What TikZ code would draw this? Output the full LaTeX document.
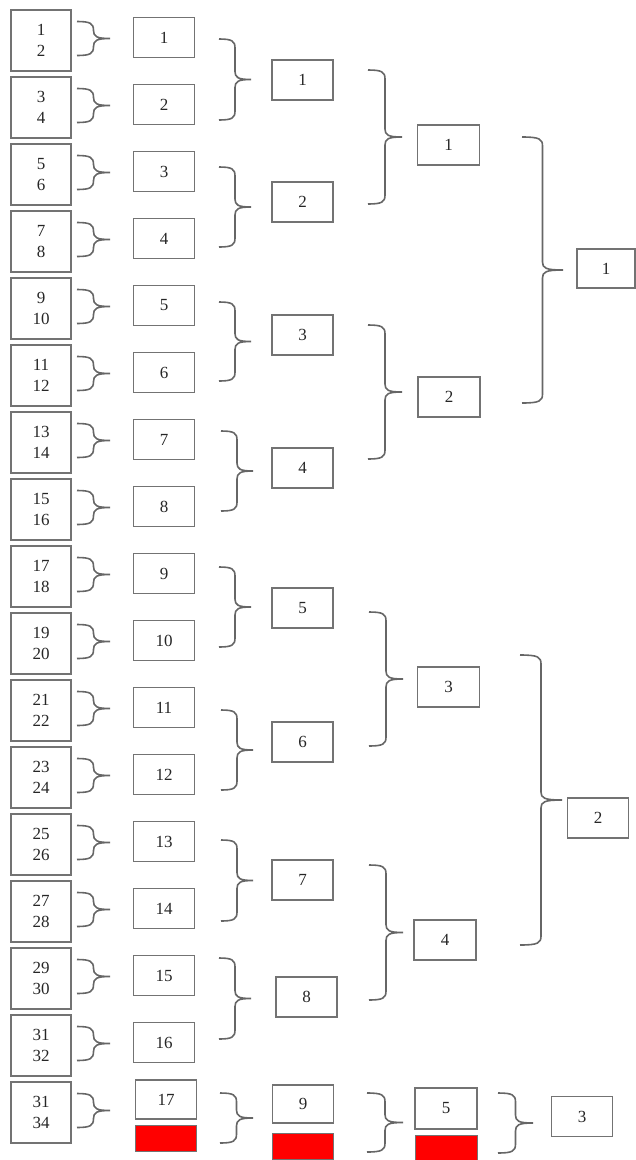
\documentclass[tikz,border=0pt]{standalone}
\usepackage{fontspec}
\setmainfont{Liberation Serif}
\usetikzlibrary{calc}

\begin{document}
\begin{tikzpicture}[
    x=1pt, y=1pt,
    font=\fontsize{17}{21}\selectfont,
    every node/.style={inner sep=0pt, text=black!85},
    pairbox/.style={draw=black!55, line width=1.6pt, minimum width=60pt,
                    minimum height=61pt, align=center},
    numbox/.style={draw=black!55, line width=1.6pt, minimum width=61pt,
                   minimum height=40pt},
    padbox/.style={draw=black!55, line width=1pt, fill=red, minimum width=61pt,
                   minimum height=26pt},
    bline/.style={draw=black!60, line width=1.6pt},
    % brace: x of ends / extra at top / extra at bottom / width
    brc/.style n args={4}{to path={
        let \p1=(\tikztostart), \p2=(\tikztotarget),
            \n1={#1}, \n2={\y1+(#2)}, \n3={\y2-(#3)},
            \n4={(\n2+\n3)/2}, \n5={#1+#4/2}, \n6={#1+#4} in
        (\n1,\n2) .. controls (\n5-3,\n2) and (\n5,\n2-2) .. (\n5,\n2-9)
        -- (\n5,\n4+8) .. controls (\n5,\n4+2) and (\n5+3,\n4) .. (\n6,\n4)
        .. controls (\n5+3,\n4) and (\n5,\n4-2) .. (\n5,\n4-8)
        -- (\n5,\n3+9) .. controls (\n5,\n3+2) and (\n5-3,\n3) .. (\n1,\n3)
    }},
]
\useasboundingbox (0,0) rectangle (636,-1160);

% --------- Pairs and first numbering ----------
\foreach \i in {1,...,16} {
  \pgfmathtruncatemacro\a{2*\i-1}
  \pgfmathtruncatemacro\b{2*\i}
  \node[pairbox] (l\i) at (41,{-40.5-67*(\i-1)}) {\a\\\b};
  \node[numbox]  (m\i) at (164,{-37.5-67*(\i-1)}) {\i};
  \draw[bline, brc={77}{19}{15}{33}] (l\i) to (l\i);
}
\node[pairbox] (l17) at (41,-1112.5) {31\\34};
\node[numbox, minimum height=39pt] (m17) at (166,-1099.5) {17};
\node[padbox] (p17) at (166,-1138.5) {};
\draw[bline, brc={77}{19}{15}{33}] (l17) to (l17);

% --------- Second level ----------
\node[numbox] (s1) at (302.5,-80)  {1};
\node[numbox] (s2) at (302.5,-202) {2};
\node[numbox] (s3) at (302.5,-335) {3};
\node[numbox] (s4) at (302.5,-468) {4};
\node[numbox] (s5) at (302.5,-608) {5};
\node[numbox] (s6) at (302.5,-742) {6};
\node[numbox] (s7) at (302.5,-880) {7};
\node[numbox] (s8) at (306.5,-997) {8};
\node[numbox, minimum height=38pt] (s9) at (303,-1104) {9};
\node[padbox] (q9) at (303,-1146) {};

\draw[bline, brc={219}{-1.5}{15.5}{32}] (m1)  to (m2);
\draw[bline, brc={219}{4.5}{8.5}{32}]   (m3)  to (m4);
\draw[bline, brc={219}{3.5}{8.5}{32}]   (m5)  to (m6);
\draw[bline, brc={221}{8.5}{4.5}{32}]   (m7)  to (m8);
\draw[bline, brc={219}{6.5}{6.5}{32}]   (m9)  to (m10);
\draw[bline, brc={221}{-2.5}{15.5}{32}] (m11) to (m12);
\draw[bline, brc={221}{1.5}{12.5}{32}]  (m13) to (m14);
\draw[bline, brc={219}{17.5}{-3.5}{32}] (m15) to (m16);
\draw[bline, brc={220}{6.5}{4.5}{33}]   (m17) to (p17);

% --------- Third level ----------
\node[numbox, minimum width=62pt] (t1) at (448.5,-145) {1};
\node[numbox, minimum width=62pt] (t2) at (449,-397)   {2};
\node[numbox, minimum width=62pt] (t3) at (448.5,-687) {3};
\node[numbox, minimum width=62pt] (t4) at (445,-940)   {4};
\node[numbox, minimum width=62pt, minimum height=41pt] (t5) at (446,-1108.5) {5};
\node[padbox, minimum width=62pt, minimum height=25pt] (q5) at (446,-1147.5) {};

\draw[bline, brc={368}{10}{2}{34}]  (s1) to (s2);
\draw[bline, brc={368}{10}{-9}{34}] (s3) to (s4);
\draw[bline, brc={369}{-4}{4}{34}]  (s5) to (s6);
\draw[bline, brc={369}{15}{3}{34}]  (s7) to (s8);
\draw[bline, brc={367}{11}{6}{36}]  (s9) to (q9);

% --------- Fourth level ----------
\node[numbox, minimum width=58pt, minimum height=39pt] (u1) at (606,-268.5) {1};
\node[numbox] (u2) at (598,-818)    {2};
\node[numbox] (u3) at (582,-1116.5) {3};

\draw[bline, brc={522}{8}{6}{41}]    (t1) to (t2);
\draw[bline, brc={520}{32}{5}{42}]   (t3) to (t4);
\draw[bline, brc={498}{15.5}{5.5}{35}] (t5) to (q5);

\end{tikzpicture}
\end{document}
